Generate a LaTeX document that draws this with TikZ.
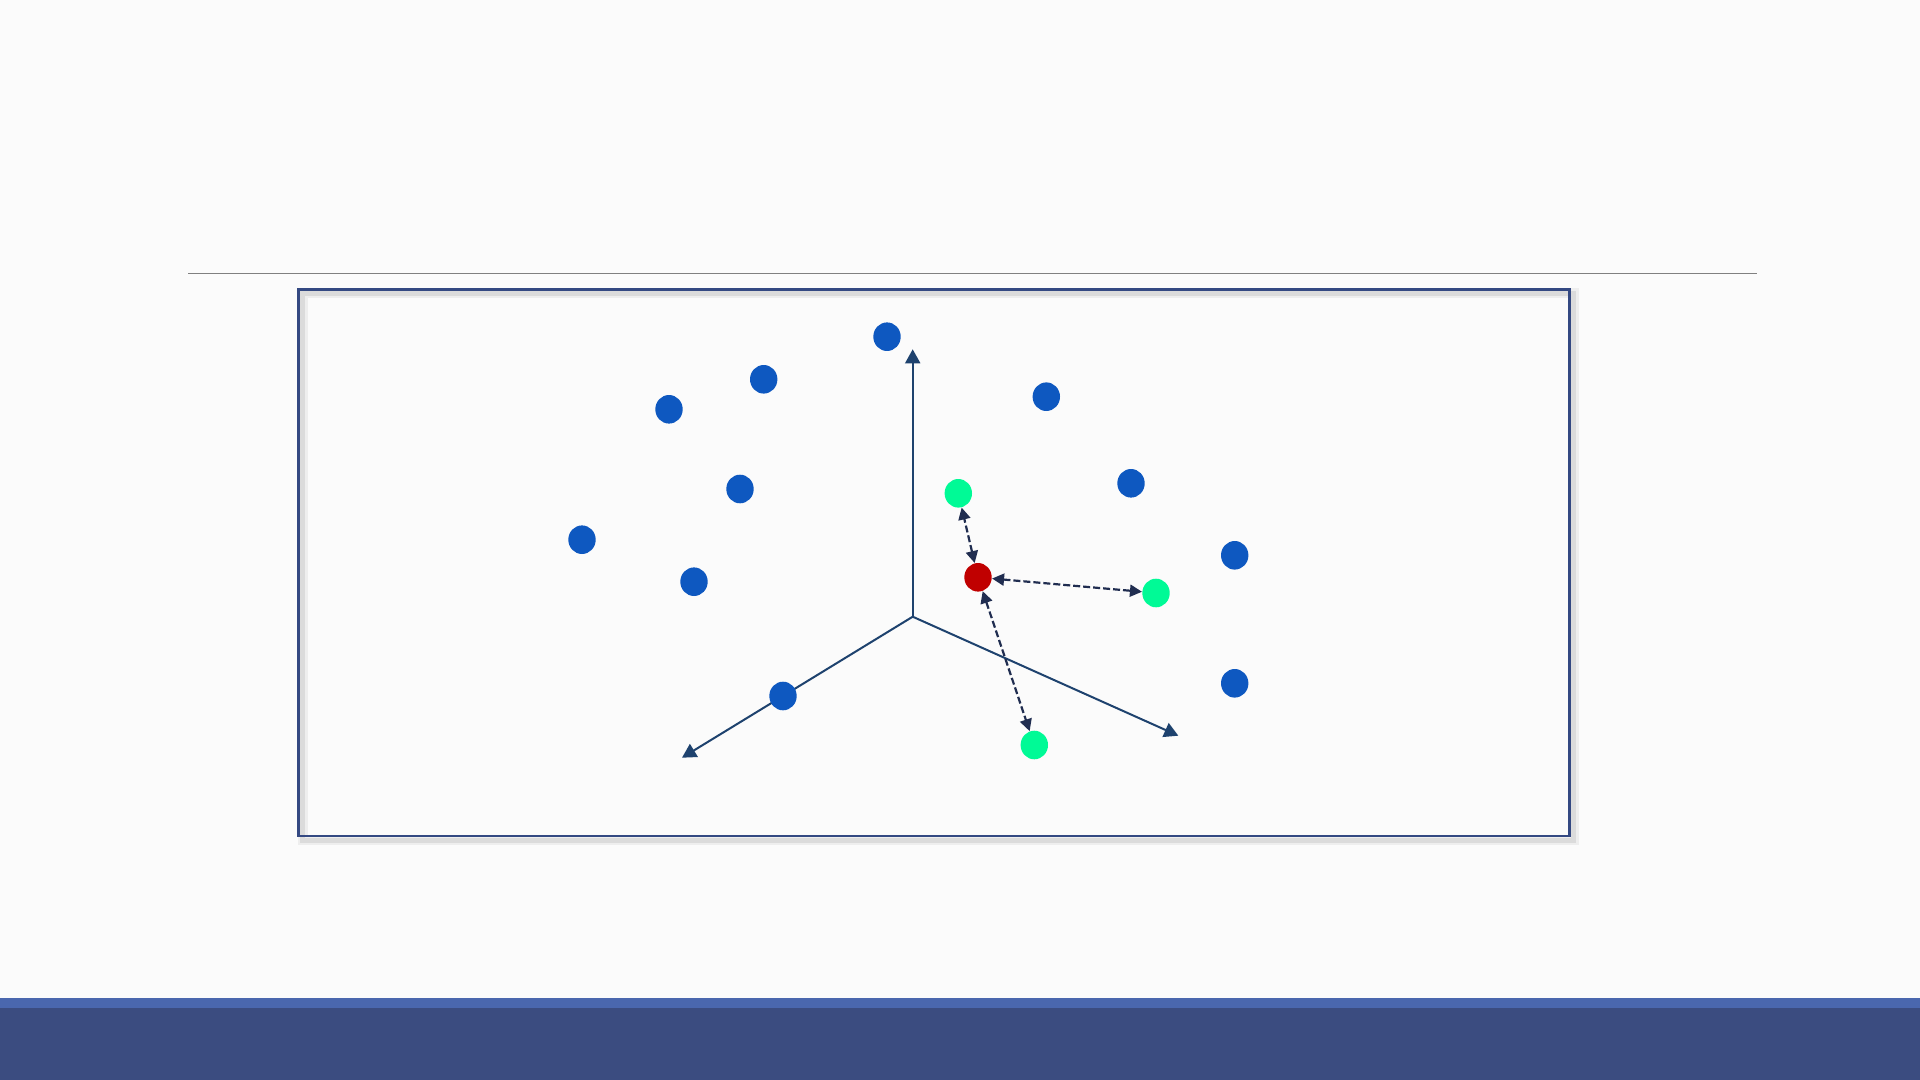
\documentclass[tikz,border=0pt]{standalone}
\usepackage{tikz}
\usetikzlibrary{positioning}
\usetikzlibrary{shapes}
\usetikzlibrary{arrows.meta}

\definecolor{slidebg}{RGB}{251,251,251}
\definecolor{framecol}{RGB}{52,73,130}
\definecolor{axiscol}{RGB}{30,66,110}
\definecolor{distcol}{RGB}{32,45,80}
\definecolor{ptblue}{RGB}{14,88,192}
\definecolor{ptgreen}{RGB}{0,250,150}
\definecolor{ptred}{RGB}{192,0,0}
\definecolor{barlight}{RGB}{74,103,174}
\definecolor{bardark}{RGB}{59,76,128}

\begin{document}
\begin{tikzpicture} [x=0.5pt,y=-0.5pt,
            dot/.style={ellipse,inner sep=0pt,minimum width=13.7pt,minimum height=14.3pt},
            blue dot/.style={dot,fill=ptblue},
            near dot/.style={dot,fill=ptgreen},
            query dot/.style={dot,fill=ptred},
            axis/.style={-{Triangle[length=7pt,width=7.5pt]},axiscol,line width=1pt},
            dist/.style={{Triangle[length=6pt,width=6pt]}-{Triangle[length=6pt,width=6pt]},distcol,line width=1.1pt,dash pattern=on 3.5pt off 1.5pt}]

%page
\useasboundingbox (0,0) rectangle (1920,1080);
\fill[slidebg] (0,0) rectangle (1920,1080);
\fill[barlight] (0,998) rectangle (1920,1008);
\fill[bardark] (0,1008) rectangle (1920,1080);
\draw[gray,line width=0.7pt] (188,273.3) -- (1757,273.3);

%frame
\draw[black,opacity=0.05,line width=5pt] (302.5,293.5) rectangle (1573.5,840);
\draw[black,opacity=0.08,line width=2.5pt] (302.5,293.5) rectangle (1573.5,840);
\draw[framecol,line width=1.4pt] (298.3,289.3) rectangle (1569.5,836);

%axes
\coordinate (o) at (912.7,616.7);
\coordinate (ax) at (912.7,349.3);
\coordinate (ay) at (1178.3,735.7);
\coordinate (az) at (682,757.7);
\draw[axis] (o) -- (ax);
\draw[axis] (o) -- (ay);
\draw[axis] (o) -- (az);

%points
\node (b1) at (887,336.7) [blue dot] {};
\node (b2) at (763.7,379.3) [blue dot] {};
\node (b3) at (669,409.3) [blue dot] {};
\node (b4) at (1046.3,396.7) [blue dot] {};
\node (b5) at (740,489) [blue dot] {};
\node (b6) at (1131,483.3) [blue dot] {};
\node (b7) at (582,539.7) [blue dot] {};
\node (b8) at (694,581.7) [blue dot] {};
\node (b9) at (1234.7,555.3) [blue dot] {};
\node (b10) at (783,696) [blue dot] {};
\node (b11) at (1234.7,683.3) [blue dot] {};

%neighbours
\node (g1) at (958.3,493.3) [near dot] {};
\node (g2) at (1156,593) [near dot] {};
\node (g3) at (1034.3,745) [near dot] {};
\node (q) at (978,577.3) [query dot] {};

\draw[dist] (q) -- (g1);
\draw[dist] (q) -- (g2);
\draw[dist] (q) -- (g3);

\end{tikzpicture}
\end{document}
